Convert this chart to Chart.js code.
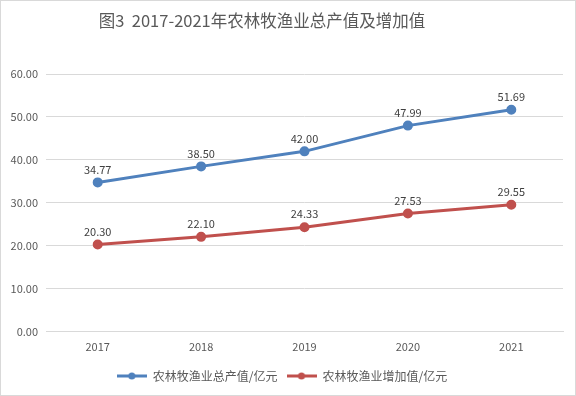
<!DOCTYPE html>
<html>
<head>
<meta charset="utf-8">
<script src="https://cdn.jsdelivr.net/npm/chart.js@4"></script>
<style>
  body { margin: 0; background: #fff; }
  #wrap { width: 576px; height: 396px; box-sizing: border-box; border: 1px solid #d9d9d9; }
  canvas { display: block; }
</style>
</head>
<body>
<div id="wrap"><canvas id="chart" width="574" height="394"></canvas></div>
<script>
// values
const years = ['2017', '2018', '2019', '2020', '2021'];
const totalOutput = [34.77, 38.50, 42.00, 47.99, 51.69];
const addedValue = [20.30, 22.10, 24.33, 27.53, 29.55];
const seriesNames = ['农林牧渔业总产值/亿元', '农林牧渔业增加值/亿元'];
const titleText = '图3  2017-2021年农林牧渔业总产值及增加值';

const blue = '#4f81bd';
const red = '#c0504d';
const font = "'Microsoft YaHei', 'Noto Sans CJK SC', sans-serif";

// little line + dot icon for the legend
function legendIcon(color) {
    const c = document.createElement('canvas');
    c.width = 30; c.height = 10;
    const ctx = c.getContext('2d');
    ctx.strokeStyle = color;
    ctx.lineWidth = 3;
    ctx.beginPath();
    ctx.moveTo(0, 5);
    ctx.lineTo(30, 5);
    ctx.stroke();
    ctx.fillStyle = color;
    ctx.beginPath();
    ctx.arc(15, 5, 3.5, 0, Math.PI * 2);
    ctx.fill();
    return c;
}

// title sits left of centre in the original, so draw it by hand
const chartTitle = {
    id: 'chartTitle',
    afterDraw(chart) {
        const ctx = chart.ctx;
        ctx.save();
        ctx.font = '16.5px ' + font;
        ctx.fillStyle = '#595959';
        ctx.textAlign = 'center';
        ctx.textBaseline = 'middle';
        ctx.fillText(titleText, 261, 20);
        ctx.restore();
    }
};

// draw the value over each point
const valueLabels = {
    id: 'valueLabels',
    afterDatasetsDraw(chart) {
        const ctx = chart.ctx;
        ctx.save();
        ctx.font = '11px ' + font;
        ctx.fillStyle = '#404040';
        ctx.textAlign = 'center';
        ctx.textBaseline = 'middle';
        chart.data.datasets.forEach((ds, i) => {
            chart.getDatasetMeta(i).data.forEach((pt, j) => {
                ctx.fillText(ds.data[j].toFixed(2), pt.x, pt.y - 13);
            });
        });
        ctx.restore();
    }
};

const ctx = document.getElementById('chart');
new Chart(ctx, {
    type: 'line',
    data: {
        labels: years,
        datasets: [{
            label: seriesNames[0],
            data: totalOutput,
            borderColor: blue,
            backgroundColor: blue,
            borderWidth: 3,
            pointRadius: 3.5,
            pointHoverRadius: 3.5
        }, {
            label: seriesNames[1],
            data: addedValue,
            borderColor: red,
            backgroundColor: red,
            borderWidth: 3,
            pointRadius: 3.5,
            pointHoverRadius: 3.5
        }]
    },
    options: {
        responsive: false,
        animation: false,
        layout: { padding: { left: 0, right: 12, top: 73, bottom: 3 } },
        plugins: {
            title: { display: false },
            legend: {
                position: 'bottom',
                labels: {
                    color: '#595959',
                    font: { family: font, size: 12 },
                    usePointStyle: true,
                    pointStyleWidth: 30,
                    boxHeight: 10,
                    padding: 9,
                    generateLabels(chart) {
                        return chart.data.datasets.map((ds, i) => ({
                            text: ds.label,
                            fontColor: '#595959',
                            pointStyle: legendIcon(ds.borderColor),
                            datasetIndex: i,
                            lineWidth: 0
                        }));
                    }
                }
            },
            tooltip: { enabled: false }
        },
        scales: {
            x: {
                offset: true,
                afterFit(scale) { scale.height += 8; },
                grid: { display: false },
                border: { color: '#d9d9d9' },
                ticks: { color: '#595959', font: { family: font, size: 11 }, padding: 0 }
            },
            y: {
                min: 0,
                max: 60,
                afterFit(scale) { scale.width = 45; },
                grid: { color: '#d9d9d9', drawTicks: false },
                border: { display: false },
                ticks: {
                    stepSize: 10,
                    color: '#595959',
                    font: { family: font, size: 11 },
                    padding: 8,
                    callback: v => v.toFixed(2)
                }
            }
        }
    },
    plugins: [valueLabels, chartTitle]
});
</script>
</body>
</html>
